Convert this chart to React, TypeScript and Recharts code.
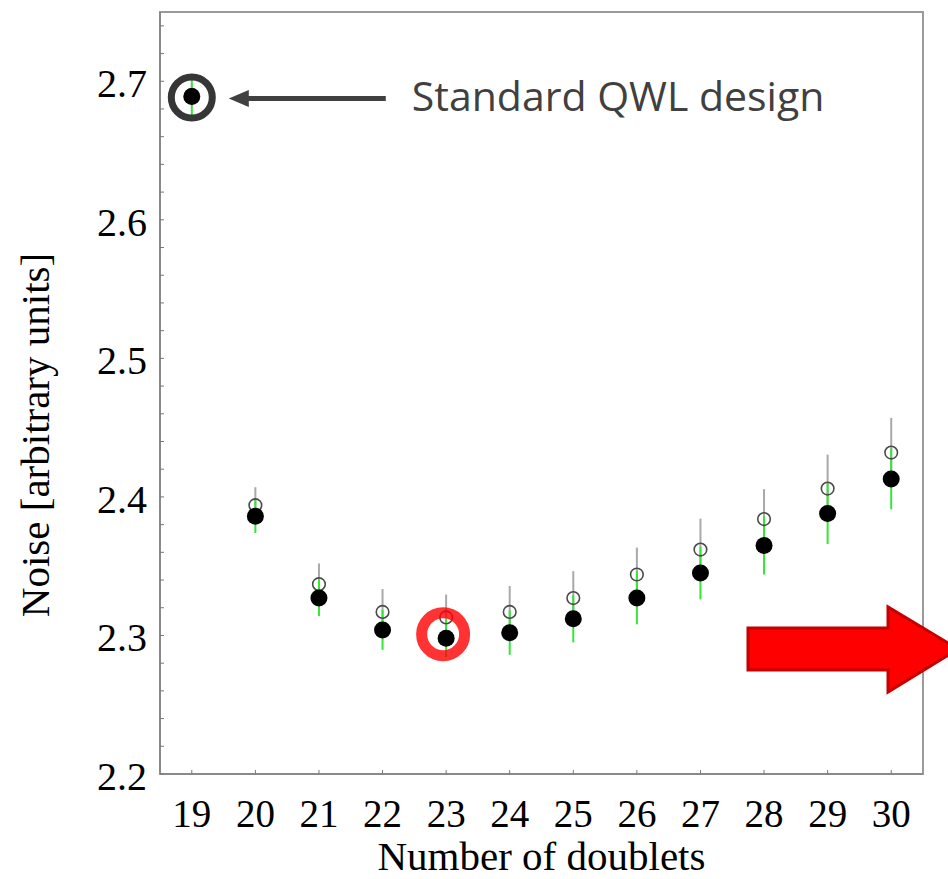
import React from "react";
import {
  ScatterChart,
  Scatter,
  XAxis,
  YAxis,
  ErrorBar,
  ReferenceDot,
  ReferenceArea,
} from "recharts";

// Number of doublets in the coating stack
const doublets = [19, 20, 21, 22, 23, 24, 25, 26, 27, 28, 29, 30];

// Noise estimate (filled markers) and its spread (green bars)
const noiseFilled = [2.689, 2.386, 2.327, 2.304, 2.298, 2.302, 2.312, 2.327, 2.345, 2.365, 2.388, 2.413];
const spreadFilled = [0.014, 0.012, 0.013, 0.0144, 0.0137, 0.016, 0.017, 0.019, 0.019, 0.021, 0.022, 0.022];

// Noise estimate (open markers) and its spread (grey bars)
const noiseOpen = [2.69, 2.394, 2.337, 2.317, 2.313, 2.317, 2.327, 2.344, 2.362, 2.384, 2.406, 2.432];
const spreadOpen = [0.008, 0.013, 0.015, 0.0165, 0.0165, 0.0187, 0.0194, 0.0194, 0.0223, 0.0216, 0.0245, 0.025];

// Axis ticks
const xDomain = [18.5, 30.5];
const yDomain = [2.2, 2.75];
const yLabelTicks = [2.2, 2.3, 2.4, 2.5, 2.6, 2.7];
const yMinorTicks = [
  2.2, 2.22, 2.24, 2.26, 2.28, 2.3, 2.32, 2.34, 2.36, 2.38, 2.4, 2.42, 2.44, 2.46,
  2.48, 2.5, 2.52, 2.54, 2.56, 2.58, 2.6, 2.62, 2.64, 2.66, 2.68, 2.7, 2.72, 2.74,
];

// Highlighted designs
const standardDesign = 19;
const optimumDesign = 23;

const openRows = doublets.map((n, i) => ({ n, v: noiseOpen[i], e: spreadOpen[i] }));
const filledRows = doublets.map((n, i) => ({ n, v: noiseFilled[i], e: spreadFilled[i] }));

const SERIF = "'Liberation Serif', 'Times New Roman', serif";
const FRAME = "#9a9a9a";

const YTick = (props: any) => {
  const { x, y, payload } = props;
  const v = payload.value as number;
  const major = yLabelTicks.some((t) => Math.abs(t - v) < 1e-6);
  return (
    <g>
      <line x1={x} x2={x + 4} y1={y} y2={y} stroke="#777" strokeWidth={1} />
      {major && (
        <text x={x - 13} y={y} dy={16} textAnchor="end" fontFamily={SERIF} fontSize={40} fill="#000">
          {v.toFixed(1)}
        </text>
      )}
    </g>
  );
};

const XTick = (props: any) => {
  const { x, y, payload } = props;
  return (
    <g>
      <line x1={x} x2={x} y1={y} y2={y - 4} stroke="#777" strokeWidth={1} />
      <text x={x} y={y} dy={53} textAnchor="middle" fontFamily={SERIF} fontSize={39} fill="#000">
        {payload.value}
      </text>
    </g>
  );
};

const FilledDot = (p: any) => <circle cx={p.cx} cy={p.cy} r={8.5} fill="#000" />;
const OpenDot = (p: any) => (
  <circle cx={p.cx} cy={p.cy} r={6.3} fill="none" stroke="#4a4a4a" strokeWidth={1.6} />
);

// Ring, pointer arrow and caption for the standard design
const StandardMark = (p: any) => {
  const { cx, cy } = p;
  const ay = cy + 2;
  return (
    <g>
      <circle cx={cx} cy={cy + 1} r={20.5} fill="none" stroke="#363636" strokeWidth={7} />
      <line x1={cx + 50} x2={cx + 194} y1={ay} y2={ay} stroke="#404040" strokeWidth={5} />
      <polygon
        points={`${cx + 37},${ay} ${cx + 57},${ay - 8.5} ${cx + 57},${ay + 8.5}`}
        fill="#404040"
      />
      <text
        x={cx + 220}
        y={cy + 14}
        fontFamily="'Open Sans', 'Noto Sans', sans-serif"
        fontSize={41}
        fill="#404040"
      >
        Standard QWL design
      </text>
    </g>
  );
};

const OptimumMark = (p: any) => (
  <circle
    cx={p.cx - 3}
    cy={p.cy - 4}
    r={21.5}
    fill="none"
    stroke="#ff0000"
    strokeOpacity={0.8}
    strokeWidth={11}
  />
);

export default function App() {
  return (
    <div style={{ position: "absolute", left: 0, top: 0, width: 948, height: 879, background: "#fff" }}>
      <ScatterChart width={948} height={879} margin={{ top: 12, right: 25, bottom: 45, left: 100 }}>
        <XAxis
          type="number"
          dataKey="n"
          domain={xDomain}
          ticks={doublets}
          interval={0}
          height={60}
          tickSize={0}
          tickMargin={0}
          tickLine={false}
          tick={<XTick />}
          axisLine={{ stroke: "#8a8a8a", strokeWidth: 2 }}
          label={(lp: any) => {
            const vb = lp.viewBox || {};
            return (
              <text
                x={(vb.x ?? 160) + (vb.width ?? 763) / 2}
                y={870}
                textAnchor="middle"
                fontFamily={SERIF}
                fontSize={41}
                fill="#000"
              >
                Number of doublets
              </text>
            );
          }}
        />
        <YAxis
          type="number"
          dataKey="v"
          domain={yDomain}
          ticks={yMinorTicks}
          interval={0}
          width={60}
          tickSize={0}
          tickMargin={0}
          tickLine={false}
          tick={<YTick />}
          axisLine={{ stroke: "#8a8a8a", strokeWidth: 2 }}
          label={() => (
            <text
              x={49}
              y={435}
              transform="rotate(-90, 49, 435)"
              textAnchor="middle"
              fontFamily={SERIF}
              fontSize={41}
              fill="#000"
            >
              Noise [arbitrary units]
            </text>
          )}
        />
        {/* plot frame */}
        <ReferenceArea
          x1={xDomain[0]}
          x2={xDomain[1]}
          y1={yDomain[0]}
          y2={yDomain[1]}
          fill="none"
          fillOpacity={0}
          stroke={FRAME}
          strokeWidth={2}
          strokeOpacity={1}
          ifOverflow="visible"
        />
        <Scatter data={openRows} shape={OpenDot} isAnimationActive={false}>
          <ErrorBar dataKey="e" direction="y" width={0} stroke="#a9a9a9" strokeWidth={2} isAnimationActive={false} />
        </Scatter>
        <Scatter data={filledRows} shape={FilledDot} isAnimationActive={false}>
          <ErrorBar dataKey="e" direction="y" width={0} stroke="#35e635" strokeWidth={2} isAnimationActive={false} />
        </Scatter>
        <ReferenceDot
          x={standardDesign}
          y={noiseFilled[doublets.indexOf(standardDesign)]}
          r={20}
          shape={StandardMark}
        />
        <ReferenceDot
          x={optimumDesign}
          y={noiseFilled[doublets.indexOf(optimumDesign)]}
          r={21}
          shape={OptimumMark}
        />
      </ScatterChart>
      <svg
        width={948}
        height={879}
        style={{ position: "absolute", left: 0, top: 0, pointerEvents: "none" }}
      >
        <polygon
          points="748,628 888,628 888,607 958,649 888,692 888,670 748,670"
          fill="#ff0000"
          stroke="#c40000"
          strokeWidth={3}
          strokeLinejoin="miter"
        />
      </svg>
    </div>
  );
}
